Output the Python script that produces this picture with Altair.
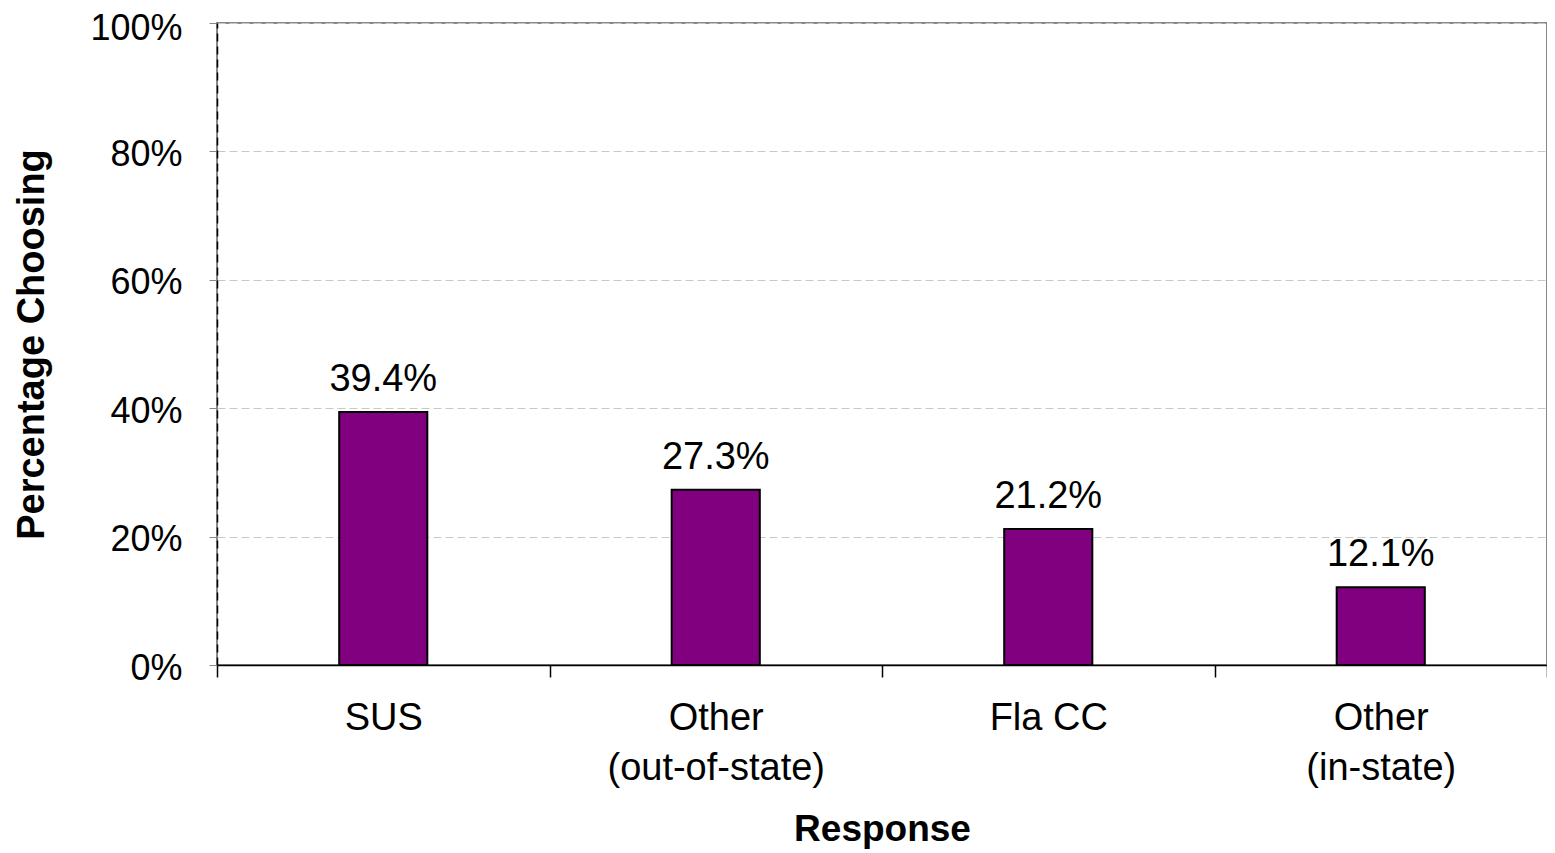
import altair as alt
import pandas as pd

categories = ["SUS", "Other\n(out-of-state)", "Fla CC", "Other\n(in-state)"]
values = [39.4, 27.3, 21.2, 12.1]
labels = ["39.4%", "27.3%", "21.2%", "12.1%"]

df = pd.DataFrame({"cat": categories, "val": values, "lab": labels})

FONT = "Liberation Sans"
FS = 38

x = alt.X(
    "cat:N",
    sort=categories,
    title="Response",
    scale=alt.Scale(paddingInner=0, paddingOuter=0),
    axis=alt.Axis(
        labelAngle=0,
        labelExpr="split(datum.label, '\\n')",
        labelFontSize=FS,
        labelFont=FONT,
        labelColor="black",
        labelLineHeight=50,
        labelPadding=22,
        labelBaseline="top",
        labelLimit=0,
        tickBand="extent",
        tickColor="black",
        tickSize=12,
        tickWidth=1.5,
        domainColor="black",
        domainWidth=1.5,
        titleFont=FONT,
        titleFontSize=37,
        titleFontWeight="bold",
        titleColor="black",
        titlePadding=24,
        grid=False,
    ),
)

y = alt.Y(
    "val:Q",
    title="Percentage Choosing",
    scale=alt.Scale(domain=[0, 100]),
    axis=alt.Axis(
        values=[0, 20, 40, 60, 80, 100],
        labelExpr="datum.value + '%'",
        labelFontSize=36,
        labelFont=FONT,
        labelColor="black",
        labelPadding=27,
        labelOffset={"condition": {"test": "datum.value == 100", "value": 5}, "value": 3},
        tickColor="#888888",
        tickSize=8,
        domainColor="black",
        domainDash=[8, 5],
        domainWidth=1.5,
        grid=True,
        gridColor="#c8c8c8",
        gridDash=[8, 4],
        gridWidth=1,
        titleFont=FONT,
        titleFontSize=FS,
        titleFontWeight="bold",
        titleColor="black",
        titlePadding=38,
    ),
)

bars = alt.Chart(df).mark_bar(
    color="#800080", stroke="black", strokeWidth=2, width=alt.RelativeBandSize(0.265)
).encode(x=x, y=y)
text = alt.Chart(df).mark_text(
    dy=-13, baseline="bottom", fontSize=FS, font=FONT, color="black"
).encode(x=alt.X("cat:N", sort=categories), y="val:Q", text="lab:N")

chart = (
    alt.layer(bars, text)
    .properties(
        width=1330,
        height=642,
        autosize=alt.AutoSizeParams(type="none"),
        padding={"left": 209, "top": 15, "right": 0, "bottom": 185},
        background="white",
    )
    .configure_view(stroke="#888888", strokeWidth=2)
)

chart.save("out.html", embed_options={"renderer": "svg", "actions": False})
